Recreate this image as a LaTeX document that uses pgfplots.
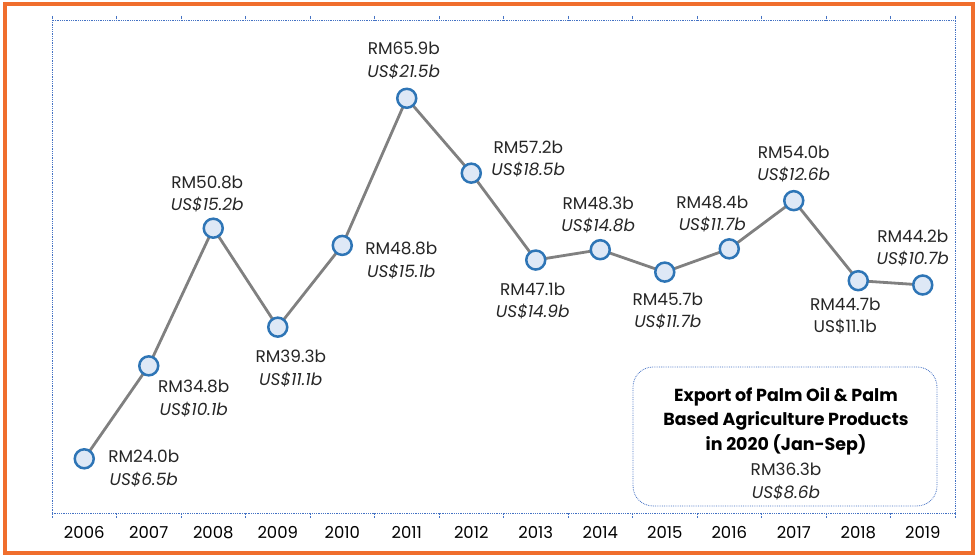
\documentclass[border=0pt]{standalone}
\usepackage{fontspec}
\setmainfont{Poppins}
\usepackage{pgfplots}
\pgfplotsset{compat=1.18}
\definecolor{frameblue}{RGB}{68,114,196}
\definecolor{mkblue}{RGB}{46,117,182}
\definecolor{mkfill}{RGB}{222,232,246}
\definecolor{lgray}{RGB}{128,128,128}
\definecolor{borange}{RGB}{240,110,45}
\begin{document}
\begin{tikzpicture}[x=1bp,y=1bp]
\path[use as bounding box] (0,0) rectangle (979,557);
\draw[borange, line width=4bp] (5,4) rectangle (973,553);
\begin{axis}[
  at={(52bp,44bp)}, anchor=south west,
  scale only axis, width=903bp, height=493bp,
  xmin=-0.5, xmax=13.5, ymin=17.7, ymax=75,
  axis line style={frameblue, densely dotted, line width=0.8bp},
  xtick={0,...,13},
  xticklabels={2006,2007,2008,2009,2010,2011,2012,2013,2014,2015,2016,2017,2018,2019},
  major tick length=0pt,
  minor xtick={-0.5,0.5,...,13.5},
  minor tick length=4bp,
  tick align=outside,
  minor tick style={frameblue, densely dotted, line width=0.8bp},
  ytick=\empty,
  xticklabel style={font=\fontsize{16.5}{18}\selectfont, text=black, yshift=-10bp},
  clip=false,
]
\addplot[lgray, line width=2.8bp, mark=*, mark size=9.5bp,
  mark options={draw=mkblue, fill=mkfill, line width=2.5bp}]
  coordinates {(0,24.0) (1,34.8) (2,50.8) (3,39.3) (4,48.8) (5,65.9) (6,57.2)
  (7,47.1) (8,48.3) (9,45.7) (10,48.4) (11,54.0) (12,44.7) (13,44.2)};
\tikzset{lbl/.style={align=center, text=black!85, font=\fontsize{17}{22.5}\selectfont, inner sep=0pt}}
\node[lbl, xshift=59.5bp, yshift=-9.5bp] at (axis cs:0,24.0) {RM24.0b\\\textit{US\$6.5b}};
\node[lbl, xshift=45bp, yshift=-32.5bp] at (axis cs:1,34.8) {RM34.8b\\\textit{US\$10.1b}};
\node[lbl, xshift=-6bp, yshift=34bp] at (axis cs:2,50.8) {RM50.8b\\\textit{US\$15.2b}};
\node[lbl, xshift=13bp, yshift=-41.5bp] at (axis cs:3,39.3) {RM39.3b\\\textit{US\$11.1b}};
\node[lbl, xshift=59bp, yshift=-15bp] at (axis cs:4,48.8) {RM48.8b\\\textit{US\$15.1b}};
\node[lbl, xshift=-3bp, yshift=38bp] at (axis cs:5,65.9) {RM65.9b\\\textit{US\$21.5b}};
\node[lbl, xshift=57bp, yshift=14bp] at (axis cs:6,57.2) {RM57.2b\\\textit{US\$18.5b}};
\node[lbl, xshift=-3bp, yshift=-41bp] at (axis cs:7,47.1) {RM47.1b\\\textit{US\$14.9b}};
\node[lbl, xshift=-2bp, yshift=35bp] at (axis cs:8,48.3) {RM48.3b\\\textit{US\$14.8b}};
\node[lbl, xshift=3bp, yshift=-39bp] at (axis cs:9,45.7) {RM45.7b\\\textit{US\$11.7b}};
\node[lbl, xshift=-17bp, yshift=35bp] at (axis cs:10,48.4) {RM48.4b\\\textit{US\$11.7b}};
\node[lbl, xshift=0bp, yshift=36.5bp] at (axis cs:11,54.0) {RM54.0b\\\textit{US\$12.6b}};
\node[lbl, xshift=-13bp, yshift=-35bp] at (axis cs:12,44.7) {RM44.7b\\US\$11.1b};
\node[lbl, xshift=-10bp, yshift=37bp] at (axis cs:13,44.2) {RM44.2b\\\textit{US\$10.7b}};
\end{axis}
\draw[frameblue, densely dotted, line width=0.8bp, rounded corners=20bp] (633,51) rectangle (937,190);
\node[align=center, font=\fontsize{17.5}{24.5}\selectfont\bfseries, inner sep=0pt] at (786,136) {Export of Palm Oil \& Palm\\Based Agriculture Products\\in 2020 (Jan-Sep)};
\node[align=center, font=\fontsize{17}{22.5}\selectfont, text=black!85, inner sep=0pt] at (786,75.5) {RM36.3b\\\textit{US\$8.6b}};
\end{tikzpicture}
\end{document}
